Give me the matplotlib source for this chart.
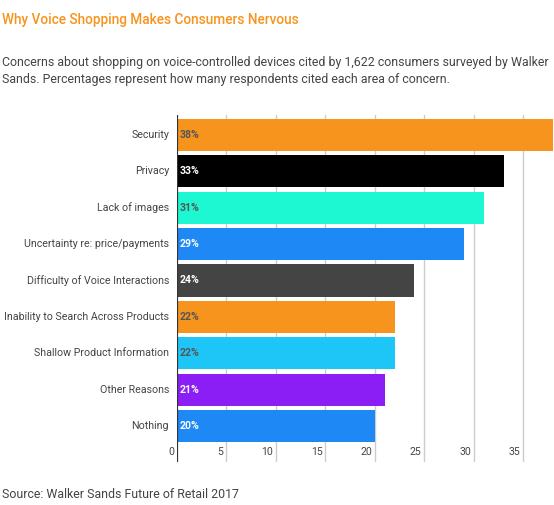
import matplotlib
matplotlib.use("Agg")
import matplotlib.pyplot as plt

plt.rcParams['font.family'] = ['Roboto', 'DejaVu Sans']

# data
categories = ["Security", "Privacy", "Lack of images", "Uncertainty re: price/payments",
              "Difficulty of Voice Interactions", "Inability to Search Across Products",
              "Shallow Product Information", "Other Reasons", "Nothing"]
values = [38, 33, 31, 29, 24, 22, 22, 21, 20]
colors = ["#F7941D", "#000000", "#1DF7D2", "#1E88F5", "#444444",
          "#F7941D", "#1EC6F7", "#8A1EF5", "#1E88F5"]
label_colors = ["#555555", "white", "#555555", "white", "white",
                "#555555", "#555555", "white", "white"]
ticks = [0, 5, 10, 15, 20, 25, 30, 35]

W, H = 554, 505
fig = plt.figure(figsize=(W / 100, H / 100), dpi=100)
fig.patch.set_facecolor("white")

# axes box in pixels: left 177, right 554, top 115, bottom 462
ax = fig.add_axes([177 / W, 1 - 462 / H, (554 - 177) / W, (462 - 115) / H])
pos = list(range(len(categories)))
ax.barh(pos, values, height=0.88, color=colors, zorder=3)
ax.set_xlim(0, 38.1)
ax.set_ylim(8.99, -0.55)

for x in ticks[1:]:
    ax.axvline(x, color="#cccccc", lw=1, zorder=1)
ax.axvline(0, color="#333333", lw=1.6, zorder=4)

for s in ax.spines.values():
    s.set_visible(False)
ax.set_xticks([])
ax.set_yticks([])

# category labels and values
for i, (c, v) in enumerate(zip(categories, values)):
    ax.text(-0.8, i, c, ha="right", va="center", fontsize=7.7, color="#444444")
    ax.text(0.3, i, f"{v}%", ha="left", va="center", fontsize=7.6,
            fontweight="bold", color=label_colors[i], zorder=5)

# x tick labels sit left of each gridline
for x in ticks:
    ax.text(x - 0.3, 8.72, str(x), ha="right", va="center", fontsize=7.6, color="#444444")

fig.text(2 / W, 1 - 20 / H, "Why Voice Shopping Makes Consumers Nervous",
         fontsize=9.8, fontweight="medium", color="#F7941D", va="center", ha="left")
fig.text(2 / W, 1 - 71 / H,
         "Concerns about shopping on voice-controlled devices cited by 1,622 consumers surveyed by Walker\n"
         "Sands. Percentages represent how many respondents cited each area of concern.",
         fontsize=8.95, color="#444444", va="center", ha="left", linespacing=1.35)
fig.text(2 / W, 1 - 494 / H, "Source: Walker Sands Future of Retail 2017",
         fontsize=8.9, color="#444444", va="center", ha="left")

fig.savefig("out.png", dpi=100)
